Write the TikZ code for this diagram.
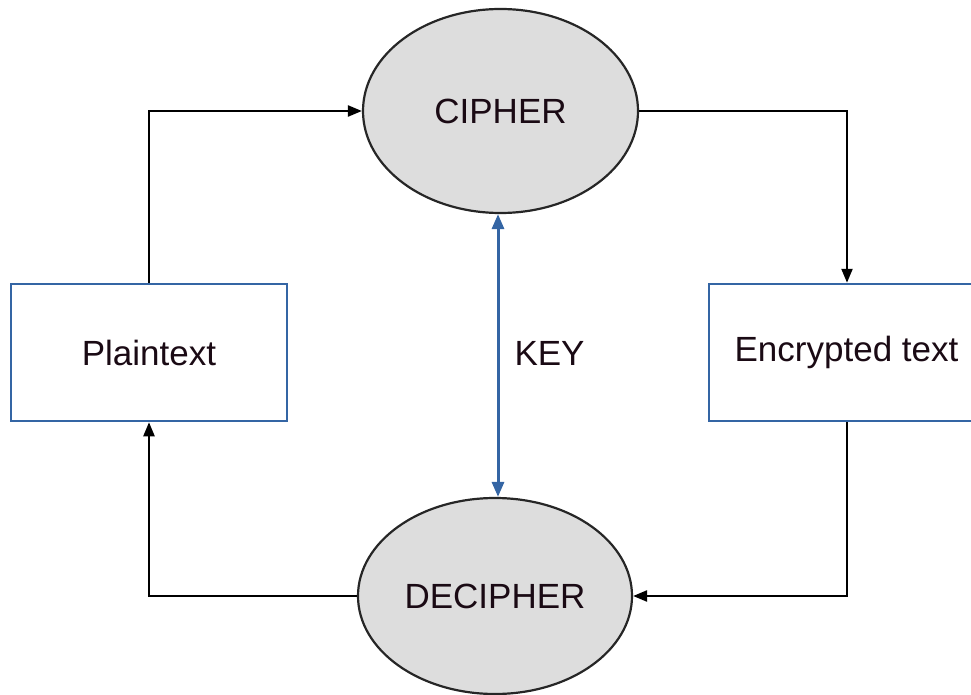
\documentclass[tikz,border=0pt]{standalone}
\usepackage{fontspec}
\setmainfont{Liberation Sans}
\usetikzlibrary{arrows.meta,shapes.geometric}
\definecolor{boxblue}{HTML}{3465A4}
\definecolor{ellfill}{HTML}{DDDDDD}
\definecolor{txt}{HTML}{1A0A14}
\tikzset{
  ellnode/.style={ellipse,draw=black!85,line width=2.2pt,fill=ellfill,inner sep=0pt,font=\fontsize{35}{42}\selectfont,text=txt},
  boxnode/.style={rectangle,draw=boxblue,line width=2.5pt,fill=white,inner sep=0pt,minimum width=276pt,minimum height=137pt,font=\fontsize{35}{42}\selectfont,text=txt},
  flow/.style={draw=black,line width=2.3pt,-{Triangle[length=14pt,width=11pt]}},
  keyarrow/.style={draw=boxblue,line width=3pt,{Triangle[length=15pt,width=12pt]}-{Triangle[length=15pt,width=12pt]}}
}
\begin{document}
\begin{tikzpicture}[x=1pt,y=-1pt]
\useasboundingbox (0,0) rectangle (971,695);
\clip (0,0) rectangle (971,695);
\node[ellnode,minimum width=275pt,minimum height=204pt] (cipher) at (500.5,111) {CIPHER};
\node[ellnode,minimum width=274pt,minimum height=196pt] (decipher) at (495,596) {DECIPHER};
\node[boxnode] (plain) at (149,352.5) {Plaintext};
\node[boxnode,minimum width=276pt] (enc) at (847,352.5) {};
\node[font=\fontsize{35}{42}\selectfont,text=txt] (enctext) at (846.5,352.5) {Encrypted text};
\node[font=\fontsize{35}{42}\selectfont,text=txt,anchor=west] (key) at (511,353) {KEY};
\coordinate (kx) at (498,0);
\draw[flow] (plain.north) |- (cipher.west);
\draw[flow] (cipher.east) -| (enc.north);
\draw[flow] (enc.south) |- (decipher.east);
\draw[flow] (decipher.west) -| (plain.south);
\draw[keyarrow] (kx |- cipher.south) -- (kx |- decipher.north);
\end{tikzpicture}
\end{document}
